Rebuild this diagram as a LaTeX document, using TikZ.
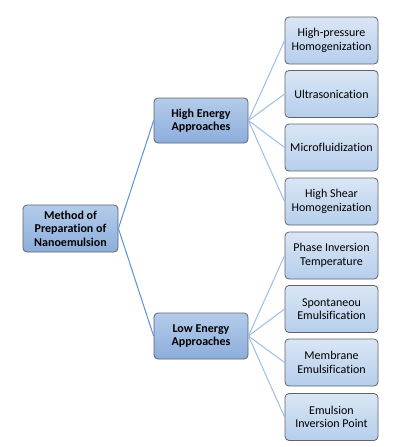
\documentclass[tikz,border=0pt]{standalone}
\usepackage{fontspec}
\setmainfont[Ligatures=NoCommon]{Carlito}
\definecolor{rootTop}{HTML}{B4CCEA}
\definecolor{rootBot}{HTML}{8CADDC}
\definecolor{leafTop}{HTML}{DAE6F5}
\definecolor{leafBot}{HTML}{B6CEEC}
\definecolor{boxBorder}{HTML}{5F6368}
\definecolor{lineDark}{HTML}{5B91D8}
\definecolor{lineLight}{HTML}{9CBDE6}
\begin{document}
\begin{tikzpicture}[x=1pt,y=-1pt,
  base/.style={draw=boxBorder, line width=0.8pt, rounded corners=4pt, align=center,
    font=\fontsize{12}{13.5}\selectfont, inner sep=0pt},
  mainbox/.style={base, top color=rootTop, bottom color=rootBot, font=\fontsize{12}{13.5}\selectfont\bfseries,
    minimum width=95pt, minimum height=46pt},
  leafbox/.style={base, top color=leafTop, bottom color=leafBot, minimum width=93pt, minimum height=47pt},
  darkline/.style={draw=lineDark, line width=1pt},
  lightline/.style={draw=lineLight, line width=1pt}]
\useasboundingbox (0,0) rectangle (394,447);
\node[mainbox, minimum height=47pt] (root) at (70.5,228.5) {Method of\\Preparation of\\Nanoemulsion};
\node[mainbox, minimum width=94pt, minimum height=45pt] (high) at (201,120.5) {High Energy\\Approaches};
\node[mainbox, minimum width=94pt, minimum height=46pt] (low) at (201,336) {Low Energy\\Approaches};
\node[leafbox] (l1) at (331.5,40.5) {High-pressure\\Homogenization};
\node[leafbox] (l2) at (331.5,94) {Ultrasonication};
\node[leafbox] (l3) at (331.5,147.5) {Microfluidization};
\node[leafbox] (l4) at (331.5,201.5) {High Shear\\Homogenization};
\node[leafbox] (l5) at (331.5,255.5) {Phase Inversion\\Temperature};
\node[leafbox] (l6) at (331.5,309) {Spontaneou\\Emulsification};
\node[leafbox] (l7) at (331.5,362.5) {Membrane\\Emulsification};
\node[leafbox] (l8) at (331.5,417) {Emulsion\\Inversion Point};
\draw[darkline] (root.east) -- (high.west);
\draw[darkline] (root.east) -- (low.west);
\foreach \n in {l1,l2,l3,l4} \draw[lightline] (high.east) -- (\n.west);
\foreach \n in {l5,l6,l7,l8} \draw[lightline] (low.east) -- (\n.west);
\end{tikzpicture}
\end{document}
